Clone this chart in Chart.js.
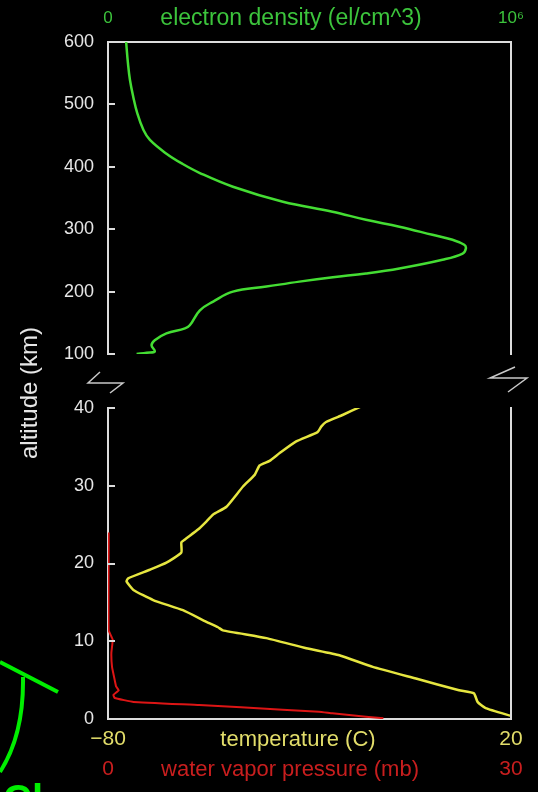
<!DOCTYPE html>
<html>
<head>
<meta charset="utf-8">
<script src="https://cdn.jsdelivr.net/npm/chart.js@4.4.1/dist/chart.umd.min.js"></script>
<style>
  html, body { margin: 0; padding: 0; background: #000; }
  canvas { display: block; }
</style>
</head>
<body>
<canvas id="profile" width="538" height="792"></canvas>
<script>
'use strict';

// electron density, upper panel (altitude in km, density in el/cm^3)
const densityAlt = [600, 566, 539, 512, 486, 459, 443, 421, 405, 390, 368, 344, 328, 315, 304, 291, 283, 275, 269, 261, 251, 237, 229, 223, 216, 208, 200, 184, 170, 146, 141, 133, 122, 114, 104, 102, 100];
const densityVal = [45000, 49500, 54500, 62700, 72600, 88000, 104000, 145000, 184000, 228000, 310000, 434000, 557000, 640000, 723000, 805000, 855000, 884000, 888000, 880000, 830000, 723000, 640000, 558000, 475000, 393000, 310000, 261000, 228000, 203000, 191000, 145000, 116000, 108000, 116000, 96000, 71000];

// temperature, lower panel (altitude in km, deg C)
const tempAlt = [40.2, 39.1, 38.2, 37.6, 36.9, 35.7, 34.2, 33.2, 32.6, 31.4, 29.9, 27.3, 26.3, 25.4, 24.4, 23.1, 22.7, 21.4, 20.1, 19.2, 18.1, 17.7, 16.6, 15.3, 14.0, 12.5, 11.8, 11.4, 10.4, 9.1, 8.2, 6.7, 5.2, 3.7, 3.3, 2.2, 1.4, 0.4];
const tempVal = [-17.2, -21.8, -25.9, -27.1, -28.0, -33.3, -37.4, -39.9, -42.4, -43.6, -46.5, -50.6, -53.9, -55.6, -57.6, -60.9, -61.8, -61.8, -65.5, -69.6, -75.0, -75.4, -73.7, -68.8, -61.4, -55.6, -52.7, -51.5, -40.7, -30.8, -22.6, -14.3, -3.6, 7.1, 10.8, 11.7, 13.7, 20.0];

// water vapor pressure, lower panel (altitude in km, mb)
const vaporAlt = [24.0, 11.4, 10.2, 8.5, 6.7, 5.0, 4.2, 3.7, 3.1, 2.7, 2.2, 1.8, 1.2, 0.94, 0.73, 0.3, 0.1];
const vaporVal = [0.05, 0.05, 0.35, 0.25, 0.3, 0.5, 0.6, 0.8, 0.4, 0.5, 1.9, 6.8, 13.0, 15.7, 16.7, 19.2, 20.5];

// axis ranges and tick labels
const densityRange = [0, 1e6];
const tempRange = [-80, 20];
const vaporRange = [0, 30];
const upperAltRange = [100, 600];
const lowerAltRange = [0, 40];
const densityTickLabels = ['0', '10\u2076'];
const tempTickLabels = ['\u221280', '20'];
const vaporTickLabels = ['0', '30'];

const FRAME = '#dcdcdc';
const WHITE_TEXT = '#e6e6e6';
const GREEN_LINE = '#44dd33';
const GREEN_TEXT = '#3cc43c';
const YELLOW_LINE = '#e6e640';
const YELLOW_TEXT = '#e2dd6a';
const RED_LINE = '#dd1515';
const RED_TEXT = '#c81e1e';
const FONT = '"Liberation Sans", Arial, sans-serif';

function pairs(ys, xs) {
    return ys.map((y, i) => ({ x: xs[i], y: y }));
}

// only show the two end values on the x axes
function endTicks(scale) {
    scale.ticks = [{ value: scale.min }, { value: scale.max }];
}

const frameExtras = {
    id: 'frameExtras',
    afterDraw(chart) {
        const ctx = chart.ctx;
        const s = chart.scales;
        const left = chart.chartArea.left;
        const right = chart.chartArea.right;
        const gapTop = s.yGap.top;
        ctx.save();

        // right side of the box, one piece per panel
        ctx.strokeStyle = FRAME;
        ctx.lineWidth = 2;
        ctx.beginPath();
        ctx.moveTo(right, s.yTop.top - 1);
        ctx.lineTo(right, s.yTop.bottom + 1);
        ctx.moveTo(right, s.yBot.top - 1);
        ctx.lineTo(right, s.yBot.bottom + 1);
        ctx.stroke();

        // ticks point into the plot
        ctx.beginPath();
        [s.yTop, s.yBot].forEach(sc => {
            sc.ticks.forEach(t => {
                const y = Math.round(sc.getPixelForValue(t.value));
                ctx.moveTo(left, y);
                ctx.lineTo(left + 7, y);
            });
        });
        ctx.stroke();

        // axis break marks
        ctx.lineWidth = 1.5;
        ctx.strokeStyle = '#c8c8c8';
        ctx.beginPath();
        ctx.moveTo(left - 8, gapTop + 18);
        ctx.lineTo(left - 20, gapTop + 29);
        ctx.lineTo(left + 15, gapTop + 29);
        ctx.lineTo(left + 2, gapTop + 39);
        ctx.moveTo(right + 4, gapTop + 13);
        ctx.lineTo(right - 21, gapTop + 24);
        ctx.lineTo(right + 16, gapTop + 24);
        ctx.lineTo(right - 3, gapTop + 38);
        ctx.stroke();

        // axis titles sit on the same line as the end tick labels
        ctx.textAlign = 'center';
        ctx.textBaseline = 'middle';
        ctx.font = '23px ' + FONT;
        ctx.fillStyle = GREEN_TEXT;
        ctx.fillText('electron density (el/cm^3)', left + 183, 19);
        ctx.font = '22px ' + FONT;
        ctx.fillStyle = YELLOW_TEXT;
        ctx.fillText('temperature (C)', left + 190, 740);
        ctx.fillStyle = RED_TEXT;
        ctx.fillText('water vapor pressure (mb)', left + 182, 770);

        ctx.save();
        ctx.translate(30, 393);
        ctx.rotate(-Math.PI / 2);
        ctx.font = '24px ' + FONT;
        ctx.fillStyle = WHITE_TEXT;
        ctx.fillText('altitude (km)', 0, 0);
        ctx.restore();

        // green slide decoration in the lower left corner
        ctx.strokeStyle = '#00ee00';
        ctx.lineWidth = 4;
        ctx.beginPath();
        ctx.moveTo(0, 662);
        ctx.lineTo(58, 692);
        ctx.moveTo(23, 677);
        ctx.quadraticCurveTo(24, 735, 0, 772);
        ctx.stroke();
        ctx.fillStyle = '#00ee00';
        ctx.textAlign = 'left';
        ctx.textBaseline = 'alphabetic';
        ctx.font = 'bold 40px ' + FONT;
        ctx.fillText('Cl', 3, 813);

        ctx.restore();
    }
};

const ctx = document.getElementById('profile').getContext('2d');

new Chart(ctx, {
    type: 'line',
    data: {
        datasets: [
            {
                label: 'electron density',
                data: pairs(densityAlt, densityVal),
                xAxisID: 'xDen',
                yAxisID: 'yTop',
                borderColor: GREEN_LINE,
                borderWidth: 2.5,
                pointRadius: 0,
                tension: 0.4
            },
            {
                label: 'temperature',
                data: pairs(tempAlt, tempVal),
                xAxisID: 'xTemp',
                yAxisID: 'yBot',
                borderColor: YELLOW_LINE,
                borderWidth: 2.5,
                pointRadius: 0,
                tension: 0.15
            },
            {
                label: 'water vapor pressure',
                data: pairs(vaporAlt, vaporVal),
                xAxisID: 'xVap',
                yAxisID: 'yBot',
                borderColor: RED_LINE,
                borderWidth: 2,
                pointRadius: 0,
                tension: 0.1
            }
        ]
    },
    options: {
        responsive: false,
        animation: false,
        devicePixelRatio: 1,
        layout: { padding: { left: 0, right: 27, top: 0, bottom: 0 } },
        plugins: {
            legend: { display: false },
            tooltip: { enabled: false }
        },
        scales: {
            xDen: {
                type: 'linear',
                position: 'top',
                min: densityRange[0],
                max: densityRange[1],
                afterBuildTicks: endTicks,
                afterFit: sc => { sc.height = 42; },
                grid: { display: false, drawTicks: false },
                border: { display: true, color: FRAME, width: 2 },
                ticks: {
                    color: GREEN_TEXT,
                    font: { family: FONT, size: 17 },
                    padding: 13,
                    maxRotation: 0,
                    callback: (v, i) => densityTickLabels[i]
                }
            },
            xTemp: {
                type: 'linear',
                position: 'bottom',
                weight: 1,
                min: tempRange[0],
                max: tempRange[1],
                afterBuildTicks: endTicks,
                afterFit: sc => { sc.height = 30; },
                grid: { display: false, drawTicks: false },
                border: { display: true, color: FRAME, width: 2 },
                ticks: {
                    color: YELLOW_TEXT,
                    font: { family: FONT, size: 21 },
                    padding: 8,
                    maxRotation: 0,
                    callback: (v, i) => tempTickLabels[i]
                }
            },
            xVap: {
                type: 'linear',
                position: 'bottom',
                weight: 2,
                min: vaporRange[0],
                max: vaporRange[1],
                afterBuildTicks: endTicks,
                afterFit: sc => { sc.height = 43; },
                grid: { display: false, drawTicks: false },
                border: { display: false },
                ticks: {
                    color: RED_TEXT,
                    font: { family: FONT, size: 21 },
                    padding: 8,
                    maxRotation: 0,
                    callback: (v, i) => vaporTickLabels[i]
                }
            },
            yTop: {
                type: 'linear',
                position: 'left',
                stack: 'alt',
                stackWeight: 312,
                weight: 3,
                min: upperAltRange[0],
                max: upperAltRange[1],
                afterFit: sc => { sc.width = 108; },
                grid: { display: false, drawTicks: false },
                border: { display: true, color: FRAME, width: 2 },
                ticks: {
                    stepSize: 100,
                    color: WHITE_TEXT,
                    font: { family: FONT, size: 18 },
                    padding: 14
                }
            },
            yGap: {
                type: 'linear',
                position: 'left',
                stack: 'alt',
                stackWeight: 54,
                weight: 2,
                display: false
            },
            yBot: {
                type: 'linear',
                position: 'left',
                stack: 'alt',
                stackWeight: 311,
                weight: 1,
                min: lowerAltRange[0],
                max: lowerAltRange[1],
                afterFit: sc => { sc.width = 108; },
                grid: { display: false, drawTicks: false },
                border: { display: true, color: FRAME, width: 2 },
                ticks: {
                    stepSize: 10,
                    color: WHITE_TEXT,
                    font: { family: FONT, size: 18 },
                    padding: 14
                }
            }
        }
    },
    plugins: [frameExtras]
});
</script>
</body>
</html>
